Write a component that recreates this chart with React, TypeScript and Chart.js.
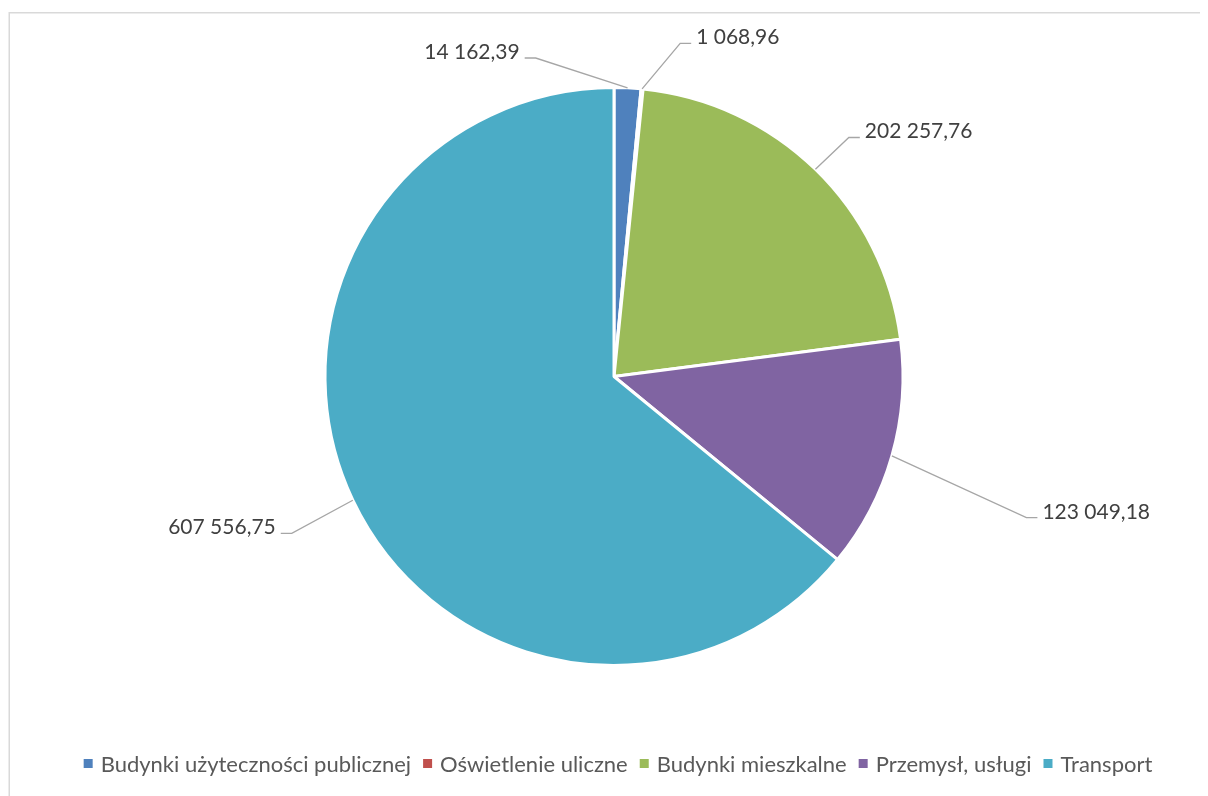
import React, { useEffect, useRef } from "react";
import { Chart, registerables } from "chart.js";

Chart.register(...registerables);

const categories = [
  "Budynki użyteczności publicznej",
  "Oświetlenie uliczne",
  "Budynki mieszkalne",
  "Przemysł, usługi",
  "Transport",
];
const values = [14162.39, 1068.96, 202257.76, 123049.18, 607556.75];
const valueLabels = ["14 162,39", "1 068,96", "202 257,76", "123 049,18", "607 556,75"];
const colors = ["#4F81BD", "#C0504D", "#9BBB59", "#8064A2", "#4BACC6"];

// label elbow positions relative to pie center, in units of radius
const labelElbows = [
  { x: -0.271, y: -1.102, side: -1 },
  { x: 0.229, y: -1.153, side: 1 },
  { x: 0.8125, y: -0.827, side: 1 },
  { x: 1.427, y: 0.488, side: 1 },
  { x: -1.115, y: 0.543, side: -1 },
];

const FONT = "Lato, 'Open Sans', sans-serif";

const decorPlugin = {
  id: "decor",
  beforeDraw(chart: any) {
    const ctx = chart.ctx;
    ctx.save();
    ctx.strokeStyle = "#D9D9D9";
    ctx.lineWidth = 1.5;
    ctx.beginPath();
    ctx.moveTo(1.25, chart.height + 5);
    ctx.lineTo(1.25, 4.75);
    ctx.lineTo(chart.width + 5, 4.75);
    ctx.stroke();
    ctx.restore();
  },
  afterDatasetsDraw(chart: any) {
    const ctx = chart.ctx;
    const meta = chart.getDatasetMeta(0);
    ctx.save();
    meta.data.forEach((arc: any, i: number) => {
      const p = arc.getProps(["x", "y", "startAngle", "endAngle", "outerRadius"], true);
      const mid = (p.startAngle + p.endAngle) / 2;
      const r = p.outerRadius;
      const ax = p.x + Math.cos(mid) * r;
      const ay = p.y + Math.sin(mid) * r;
      const el = labelElbows[i];
      const ex = p.x + el.x * r;
      const ey = p.y + el.y * r;
      const hx = ex + el.side * 11;
      ctx.strokeStyle = "#A6A6A6";
      ctx.lineWidth = 1.3;
      ctx.beginPath();
      ctx.moveTo(ax, ay);
      ctx.lineTo(ex, ey);
      ctx.lineTo(hx, ey);
      ctx.stroke();
      ctx.fillStyle = "#404040";
      ctx.font = `21px ${FONT}`;
      ctx.textBaseline = "alphabetic";
      ctx.textAlign = el.side > 0 ? "left" : "right";
      ctx.fillText(valueLabels[i], hx + el.side * 5, ey + 1);
    });
    ctx.restore();
  },
  afterDraw(chart: any) {
    const ctx = chart.ctx;
    ctx.save();
    ctx.font = `22px ${FONT}`;
    const box = 9;
    const boxGap = 8;
    const itemGap = 12;
    const widths = categories.map((c) => ctx.measureText(c).width);
    const total =
      widths.reduce((a, w) => a + box + boxGap + w, 0) + itemGap * (categories.length - 1);
    let x = 610 - total / 2;
    const baseline = 763.5;
    categories.forEach((c, i) => {
      ctx.fillStyle = colors[i];
      ctx.fillRect(x, baseline - 12.5, box, box);
      x += box + boxGap;
      ctx.fillStyle = "#595959";
      ctx.textAlign = "left";
      ctx.textBaseline = "alphabetic";
      ctx.fillText(c, x, baseline);
      x += widths[i] + itemGap;
    });
    ctx.restore();
  },
};

export default function App() {
  const ref = useRef<HTMLCanvasElement>(null);
  useEffect(() => {
    document.documentElement.style.overflow = "hidden";
    document.body.style.overflow = "hidden";
    if (!ref.current) return;
    const chart = new Chart(ref.current, {
      type: "pie",
      data: {
        labels: categories,
        datasets: [
          {
            data: values,
            backgroundColor: colors,
            borderColor: "#FFFFFF",
            borderWidth: 3,
          },
        ],
      },
      options: {
        responsive: false,
        animation: false,
        radius: 289,
        layout: { padding: { left: 12, right: 0, top: 0, bottom: 51 } },
        plugins: {
          legend: { display: false },
          tooltip: { enabled: false },
          title: { display: false },
        },
      } as any,
      plugins: [decorPlugin],
    });
    return () => chart.destroy();
  }, []);
  return (
    <div style={{ width: 1200, height: 788, overflow: "visible" }}>
      <canvas ref={ref} width={1200} height={788} style={{ display: "block" }} />
    </div>
  );
}
